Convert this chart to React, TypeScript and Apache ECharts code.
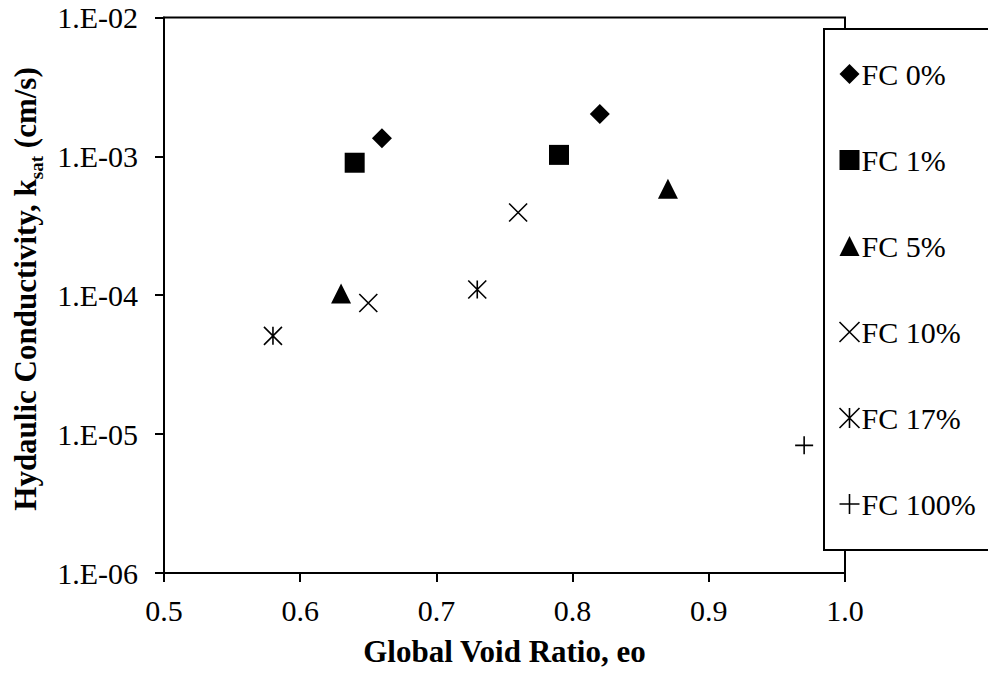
import React, { useEffect, useRef } from "react";
import * as echarts from "echarts";

const seriesNames = ["FC 0%", "FC 1%", "FC 5%", "FC 10%", "FC 17%", "FC 100%"];
const fc0: number[][] = [[0.66, 1.35e-3], [0.82, 2.02e-3]];
const fc1: number[][] = [[0.64, 9.0e-4], [0.79, 1.025e-3]];
const fc5: number[][] = [[0.63, 1.03e-4], [0.87, 5.85e-4]];
const fc10: number[][] = [[0.65, 8.8e-5], [0.76, 3.94e-4]];
const fc17: number[][] = [[0.58, 5.1e-5], [0.73, 1.1e-4]];
const fc100: number[][] = [[0.97, 8.3e-6]];

const xTickLabels = ["0.5", "0.6", "0.7", "0.8", "0.9", "1.0"];
const yTickLabels = ["1.E-06", "1.E-05", "1.E-04", "1.E-03", "1.E-02"];

const FONT = "'Liberation Serif', 'Times New Roman', serif";

const X_PATH = "path://M0,0L10,10M10,0L0,10";
const AST_PATH = "path://M0,0L10,10M10,0L0,10M5,0L5,10";
const PLUS_PATH = "path://M5,0L5,10M0,5L10,5";

export default function App() {
  const ref = useRef<HTMLDivElement>(null);
  useEffect(() => {
    if (!ref.current) return;
    const chart = echarts.init(ref.current, null, { renderer: "svg" });
    const filled = (name: string, data: number[][], symbol: string, size: number) => ({
      name,
      type: "scatter",
      data,
      symbol,
      symbolSize: size,
      itemStyle: { color: "#000", borderWidth: 0, opacity: 1 },
      emphasis: { disabled: true },
    });
    const stroked = (name: string, data: number[][], symbol: string, size: number) => ({
      name,
      type: "scatter",
      data,
      symbol,
      symbolSize: size,
      itemStyle: { color: "none", borderColor: "#000", borderWidth: 1.6, opacity: 1 },
      emphasis: { disabled: true },
    });
    const option: any = {
      animation: false,
      backgroundColor: "#fff",
      grid: {
        left: 164,
        right: 143,
        top: 17.5,
        bottom: 104,
        show: true,
        borderColor: "#000",
        borderWidth: 2,
        backgroundColor: "transparent",
      },
      xAxis: {
        type: "value",
        min: 0.5,
        max: 1.0,
        interval: 0.1,
        name: "Global Void Ratio, eo",
        nameLocation: "middle",
        nameGap: 63,
        nameTextStyle: { fontFamily: FONT, fontSize: 31, fontWeight: "bold", color: "#000" },
        axisLine: { show: true, lineStyle: { color: "#000", width: 2 } },
        axisTick: { show: true, inside: false, length: 9, lineStyle: { color: "#000", width: 2 } },
        axisLabel: {
          fontFamily: FONT,
          fontSize: 30,
          color: "#000",
          margin: 22,
          formatter: (v: number) => {
            const i = Math.round((v - 0.5) / 0.1);
            return xTickLabels[i] ?? "";
          },
        },
        splitLine: { show: false },
      },
      yAxis: {
        type: "log",
        logBase: 10,
        min: 1e-6,
        max: 1e-2,
        interval: 1,
        axisLine: { show: true, lineStyle: { color: "#000", width: 2 } },
        axisTick: { show: true, inside: false, length: 9, lineStyle: { color: "#000", width: 2 } },
        minorTick: { show: false },
        axisLabel: {
          fontFamily: FONT,
          fontSize: 30,
          color: "#000",
          margin: 26,
          formatter: (v: number) => {
            const e = Math.round(Math.log10(v));
            return yTickLabels[e + 6] ?? "";
          },
        },
        splitLine: { show: false },
      },
      legend: {
        orient: "vertical",
        left: 824,
        top: 29,
        padding: [30, 60, 31, 13],
        itemGap: 56,
        itemWidth: 20,
        itemHeight: 20,
        backgroundColor: "#fff",
        borderColor: "#000",
        borderWidth: 2,
        borderRadius: 0,
        textStyle: { fontFamily: FONT, fontSize: 30, color: "#000", lineHeight: 26, padding: [0, 0, 0, -3] },
        selectedMode: false,
        data: seriesNames.map((n, i) => ({
          name: n,
          itemStyle: i >= 3 ? { borderWidth: 1.6, borderColor: "#000", color: "none" } : undefined,
        })),
      },
      graphic: [
        {
          type: "text",
          x: 25,
          y: 289,
          rotation: Math.PI / 2,
          style: {
            text: "{a|Hydaulic Conductivity, k}{s|sat}{a| (cm/s)}",
            align: "center",
            verticalAlign: "middle",
            rich: {
              a: { fontFamily: FONT, fontSize: 31, fontWeight: "bold", fill: "#000", lineHeight: 30, verticalAlign: "middle" },
              s: { fontFamily: FONT, fontSize: 19, fontWeight: "bold", fill: "#000", lineHeight: 42, verticalAlign: "bottom" },
            },
          },
        },
      ],
      series: [
        filled(seriesNames[0], fc0, "diamond", 20),
        filled(seriesNames[1], fc1, "rect", 20),
        filled(seriesNames[2], fc5, "triangle", 20),
        stroked(seriesNames[3], fc10, X_PATH, 18),
        stroked(seriesNames[4], fc17, AST_PATH, 18),
        stroked(seriesNames[5], fc100, PLUS_PATH, 18),
      ],
    };
    chart.setOption(option);
    return () => chart.dispose();
  }, []);
  return (
    <div
      ref={ref}
      style={{ position: "fixed", left: 0, top: 0, width: 988, height: 677, background: "#fff" }}
    />
  );
}
